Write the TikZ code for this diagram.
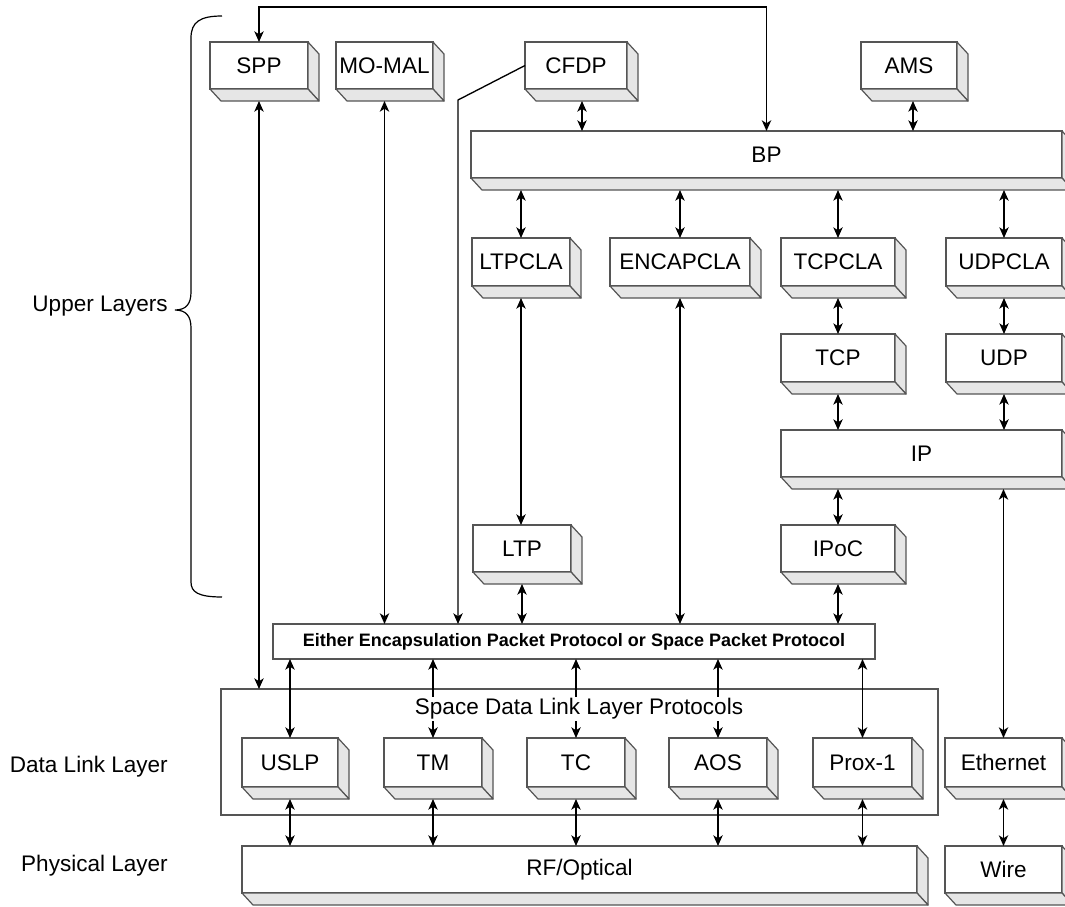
\documentclass[tikz,border=0pt]{standalone}
\usepackage{fontspec}
\setmainfont{Liberation Sans}
\usetikzlibrary{arrows.meta,calc}
\definecolor{boxline}{RGB}{85,85,85}
\definecolor{sidegrey}{RGB}{230,230,230}

\begin{document}
\begin{tikzpicture}[x=0.75pt,y=0.75pt,yscale=-1,xscale=1,
  >={Stealth[length=8pt,width=7pt,inset=2.2pt]},
  every node/.style={font=\fontsize{16.9}{20}\selectfont},
  boxsize/.style 2 args={minimum width=#1*0.75pt,minimum height=#2*0.75pt,anchor=north west},
  cube/.style={draw=boxline,line width=0.9pt,fill=white,inner sep=0pt,outer sep=0pt},
  cubeside/.style={draw=boxline,line width=0.9pt,fill=sidegrey,line join=round},
  plainbox/.style={draw=boxline,line width=0.9pt,fill=white,inner sep=0pt,outer sep=0pt},
  link/.style={draw=black,line width=1pt},
  layerlabel/.style={anchor=east,inner sep=0.75pt}]
        \useasboundingbox (0,0) rectangle (1065,907);
        \clip (0,0) rectangle (1065,907);

        %Shape: Rectangle (Space Data Link group)
        \node[plainbox,boxsize={717}{126}] (slp) at (221,689) {};

        %Shape: Cube
        \node[cube,boxsize={98}{47}] (spp) at (210,42) {SPP};
        \node[cube,boxsize={97}{47}] (momal) at (336,42) {MO-MAL};
        \node[cube,boxsize={102}{47}] (cfdp) at (525,42) {CFDP};
        \node[cube,boxsize={96}{47}] (ams) at (861,42) {AMS};
        \node[cube,boxsize={591}{47}] (bp) at (471,131) {BP};
        %Shape: Cube
        \node[cube,boxsize={98}{48}] (ltpcla) at (472,238) {LTPCLA};
        \node[cube,boxsize={140}{48}] (encapcla) at (610,238) {ENCAPCLA};
        \node[cube,boxsize={114}{48}] (tcpcla) at (781,238) {TCPCLA};
        \node[cube,boxsize={116}{48}] (udpcla) at (946,238) {UDPCLA};
        \node[cube,boxsize={114}{48}] (tcp) at (781,334) {TCP};
        \node[cube,boxsize={116}{48}] (udp) at (946,334) {UDP};
        \node[cube,boxsize={281}{47}] (ip) at (781,430) {IP};
        \node[cube,boxsize={98}{47}] (ltp) at (473,525) {LTP};
        \node[cube,boxsize={114}{47}] (ipoc) at (781,525) {IPoC};
        %Shape: Cube
        \node[cube,boxsize={96}{49}] (uslp) at (242,738) {USLP};
        \node[cube,boxsize={98}{49}] (tm) at (384,738) {TM};
        \node[cube,boxsize={98}{49}] (tc) at (527,738) {TC};
        \node[cube,boxsize={98}{49}] (aos) at (669,738) {AOS};
        \node[cube,boxsize={99}{49}] (prox) at (813,738) {Prox-1};
        \node[cube,boxsize={117}{49}] (eth) at (945,738) {Ethernet};
        \node[cube,boxsize={675}{47}] (rf) at (242,846) {RF/Optical};
        \node[cube,boxsize={117}{47}] (wire) at (945,846) {Wire};

        %Shape: Rectangle (packet protocol)
        \node[plainbox,boxsize={602}{35}] (encap) at (273,624) {\fontsize{13.5}{16}\selectfont\bfseries Either Encapsulation Packet Protocol or Space Packet Protocol};

        % cube depth
        \foreach \n in {spp,momal,cfdp,ams,bp,ltpcla,encapcla,tcpcla,udpcla,tcp,udp,ip,ltp,ipoc,uslp,tm,tc,aos,prox,eth,rf,wire}{
          \draw[cubeside] (\n.north east) -- ++(11,12) -- ($(\n.south east)+(11,12)$) -- (\n.south east) -- cycle;
          \draw[cubeside] (\n.south west) -- (\n.south east) -- ++(11,12) -- ($(\n.south west)+(11,12)$) -- cycle;
          \coordinate (\n-base) at ($(\n.south)+(0,12)$);
        }
        \coordinate (cfdp-out) at ($(cfdp-base)+(6,0)$);
        \coordinate (ams-out) at ($(ams-base)+(4,0)$);

        %Straight Lines
        \coordinate (looptop) at (259,7);
        \coordinate (cfdpbend) at (458,100);
        \draw[link,<->] (spp.north) -- (spp.north |- looptop) -| (bp.north);
        \draw[link,<->] (spp-base) -- (spp-base |- slp.north);
        \draw[link,<->] (momal-base) -- (momal-base |- encap.north);
        \draw[link,->] (cfdp.west) -- (cfdpbend) -- (cfdpbend |- encap.north);
        \draw[link,<->] (cfdp-out) -- (cfdp-out |- bp.north);
        \draw[link,<->] (ams-out) -- (ams-out |- bp.north);
        \foreach \n in {ltpcla,encapcla,tcpcla,udpcla}
          \draw[link,<->] (\n.north) -- (\n.north |- bp-base);
        \draw[link,<->] (ltpcla-base) -- (ltpcla-base |- ltp.north);
        \draw[link,<->] (encapcla-base) -- (encapcla-base |- encap.north);
        \draw[link,<->] (tcpcla-base) -- (tcpcla-base |- tcp.north);
        \draw[link,<->] (udpcla-base) -- (udpcla-base |- udp.north);
        \draw[link,<->] (tcp-base) -- (tcp-base |- ip.north);
        \draw[link,<->] (udp-base) -- (udp-base |- ip.north);
        \draw[link,<->] (ipoc.north) -- (ipoc.north |- ip-base);
        \draw[link,<->] (eth.north) -- (eth.north |- ip-base);
        \draw[link,<->] (ltp-base) -- (ltp-base |- encap.north);
        \draw[link,<->] (ipoc-base) -- (ipoc-base |- encap.north);
        \foreach \n in {uslp,tm,tc,aos,prox}{
          \draw[link,<->] (\n.north) -- (\n.north |- encap.south);
          \draw[link,<->] (\n-base) -- (\n-base |- rf.north);
        }
        \draw[link,<->] (eth-base) -- (eth-base |- wire.north);

        % Text Node
        \node[fill=white,inner sep=1pt] (slplabel) at (579,709) {Space Data Link Layer Protocols};

        %Shape: Brace
        \draw[line width=0.9pt] (222,16) .. controls (200,16) and (191,22) .. (191,38) -- (191,292) .. controls (191,304) and (186,310) .. (175,310) .. controls (186,310) and (191,316) .. (191,328) -- (191,582) .. controls (191,592) and (198,597) .. (222,597);

        % Text Node
        \node[layerlabel] (upper) at (169,306) {Upper Layers};
        % Text Node
        \node[layerlabel] (dll) at (169,767) {Data Link Layer};
        % Text Node
        \node[layerlabel] (phy) at (169,866) {Physical Layer};

\end{tikzpicture}
\end{document}
